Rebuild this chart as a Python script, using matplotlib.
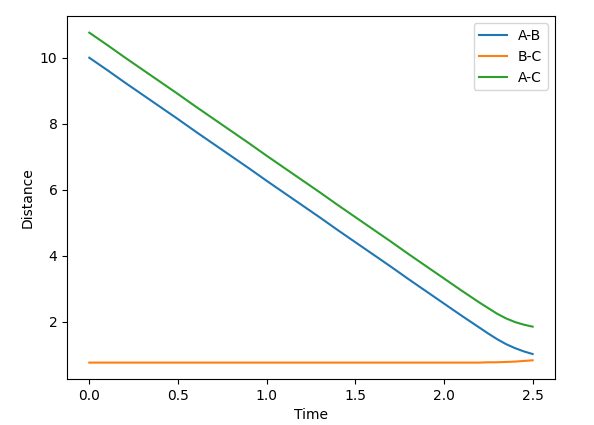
import matplotlib
matplotlib.use('Agg')
import matplotlib.pyplot as plt

time = [0.0, 0.1, 0.2, 0.3, 0.4, 0.5, 0.6, 0.7, 0.8, 0.9,
        1.0, 1.1, 1.2, 1.3, 1.4, 1.5, 1.6, 1.7, 1.8, 1.9,
        2.0, 2.1, 2.15, 2.2, 2.25, 2.3, 2.35, 2.4, 2.45, 2.5]
dist_ab = [10.00, 9.63, 9.25, 8.88, 8.51, 8.14, 7.76, 7.39, 7.02, 6.65,
           6.27, 5.90, 5.53, 5.16, 4.78, 4.41, 4.04, 3.67, 3.29, 2.92,
           2.55, 2.18, 2.00, 1.82, 1.64, 1.47, 1.32, 1.20, 1.10, 1.02]
dist_bc = [0.76, 0.76, 0.76, 0.76, 0.76, 0.76, 0.76, 0.76, 0.76, 0.76,
           0.76, 0.76, 0.76, 0.76, 0.76, 0.76, 0.76, 0.76, 0.76, 0.76,
           0.76, 0.76, 0.76, 0.76, 0.77, 0.77, 0.78, 0.79, 0.81, 0.83]
dist_ac = [10.76, 10.39, 10.01, 9.64, 9.27, 8.90, 8.52, 8.15, 7.78, 7.41,
           7.03, 6.66, 6.29, 5.92, 5.54, 5.17, 4.80, 4.43, 4.05, 3.68,
           3.31, 2.94, 2.76, 2.58, 2.41, 2.24, 2.10, 1.99, 1.91, 1.85]

fig, ax = plt.subplots(figsize=(5.94, 4.25), dpi=100)
ax.plot(time, dist_ab, label='A-B')
ax.plot(time, dist_bc, label='B-C')
ax.plot(time, dist_ac, label='A-C')
ax.set_xlabel('Time')
ax.set_ylabel('Distance')
ax.legend(loc='upper right')
fig.subplots_adjust(left=0.113, right=0.934, top=0.962, bottom=0.108)
fig.savefig('out.png', dpi=100)
